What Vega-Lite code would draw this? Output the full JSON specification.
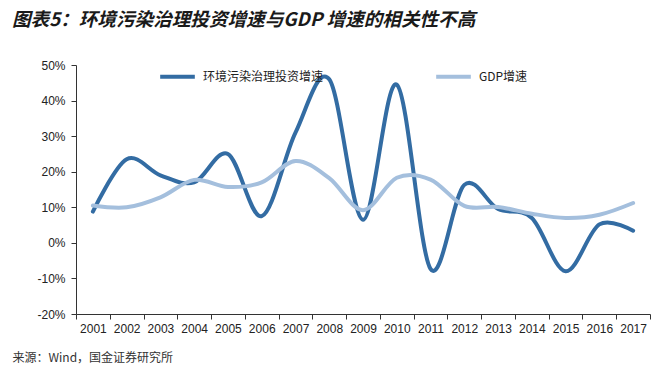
{
  "$schema": "https://vega.github.io/schema/vega-lite/v6.json",
  "width": 574,
  "height": 249,
  "autosize": {"type": "none"},
  "padding": {"left": 76, "top": 65, "right": 17, "bottom": 73},
  "background": "white",
  "title": {
    "text": "图表5：环境污染治理投资增速与GDP 增速的相关性不高",
    "anchor": "start",
    "frame": "group",
    "dx": -64,
    "offset": 27,
    "font": "Noto Sans CJK SC",
    "fontSize": 18.6,
    "fontWeight": "bold",
    "fontStyle": "italic",
    "color": "#1a1a1a"
  },
  "config": {
    "view": {"stroke": null},
    "axis": {
      "labelFont": "Liberation Sans",
      "labelFontSize": 12,
      "labelColor": "#222222",
      "domainColor": "#333333",
      "tickColor": "#333333",
      "grid": false,
      "tickSize": 5
    }
  },
  "data": {
    "values": [
      {"year": "2001", "series": "环境污染治理投资增速", "value": 8.8},
      {"year": "2002", "series": "环境污染治理投资增速", "value": 23.5},
      {"year": "2003", "series": "环境污染治理投资增速", "value": 19},
      {"year": "2004", "series": "环境污染治理投资增速", "value": 17},
      {"year": "2005", "series": "环境污染治理投资增速", "value": 25},
      {"year": "2006", "series": "环境污染治理投资增速", "value": 7.5},
      {"year": "2007", "series": "环境污染治理投资增速", "value": 31},
      {"year": "2008", "series": "环境污染治理投资增速", "value": 46},
      {"year": "2009", "series": "环境污染治理投资增速", "value": 6.5},
      {"year": "2010", "series": "环境污染治理投资增速", "value": 44.5},
      {"year": "2011", "series": "环境污染治理投资增速", "value": -7.3},
      {"year": "2012", "series": "环境污染治理投资增速", "value": 16.3},
      {"year": "2013", "series": "环境污染治理投资增速", "value": 9.5},
      {"year": "2014", "series": "环境污染治理投资增速", "value": 7},
      {"year": "2015", "series": "环境污染治理投资增速", "value": -8},
      {"year": "2016", "series": "环境污染治理投资增速", "value": 5.2},
      {"year": "2017", "series": "环境污染治理投资增速", "value": 3.4},
      {"year": "2001", "series": "GDP增速", "value": 10.5},
      {"year": "2002", "series": "GDP增速", "value": 10},
      {"year": "2003", "series": "GDP增速", "value": 12.8},
      {"year": "2004", "series": "GDP增速", "value": 17.7},
      {"year": "2005", "series": "GDP增速", "value": 15.7},
      {"year": "2006", "series": "GDP增速", "value": 17},
      {"year": "2007", "series": "GDP增速", "value": 23},
      {"year": "2008", "series": "GDP增速", "value": 18.2},
      {"year": "2009", "series": "GDP增速", "value": 9.2},
      {"year": "2010", "series": "GDP增速", "value": 18.3},
      {"year": "2011", "series": "GDP增速", "value": 17.8},
      {"year": "2012", "series": "GDP增速", "value": 10.4},
      {"year": "2013", "series": "GDP增速", "value": 10.1},
      {"year": "2014", "series": "GDP增速", "value": 8.2},
      {"year": "2015", "series": "GDP增速", "value": 7},
      {"year": "2016", "series": "GDP增速", "value": 7.9},
      {"year": "2017", "series": "GDP增速", "value": 11.2}
    ]
  },
  "mark": {"type": "line", "interpolate": "cardinal", "strokeWidth": 4, "strokeCap": "round"},
  "encoding": {
    "x": {
      "field": "year",
      "type": "ordinal",
      "bandPosition": 0.5,
      "scale": {"type": "band", "paddingInner": 0, "paddingOuter": 0},
      "axis": {
        "labelAngle": 0,
        "tickBand": "extent",
        "labelPadding": 4,
        "title": "来源：Wind，国金证券研究所",
        "titleFont": "Noto Sans CJK SC",
        "titleFontSize": 12,
        "titleFontWeight": "normal",
        "titleColor": "#333333",
        "titleAnchor": "start",
        "titleAlign": "left",
        "titleBaseline": "middle",
        "titleX": -64,
        "titleY": 43
      }
    },
    "y": {
      "field": "value",
      "type": "quantitative",
      "scale": {"domain": [-20, 50], "nice": false, "zero": false},
      "axis": {
        "values": [-20, -10, 0, 10, 20, 30, 40, 50],
        "labelExpr": "datum.value + '%'",
        "title": null,
        "labelPadding": 6
      }
    },
    "color": {
      "field": "series",
      "type": "nominal",
      "scale": {"domain": ["环境污染治理投资增速", "GDP增速"], "range": ["#336ca3", "#a4bfdd"]},
      "legend": {
        "title": null,
        "orient": "none",
        "direction": "horizontal",
        "legendX": 82,
        "legendY": -8,
        "symbolType": "stroke",
        "symbolSize": 1200,
        "symbolStrokeWidth": 4,
        "labelFont": "Noto Sans CJK SC",
        "labelFontSize": 12,
        "labelColor": "#222222",
        "columnPadding": 104,
        "labelOffset": 6
      }
    }
  }
}
